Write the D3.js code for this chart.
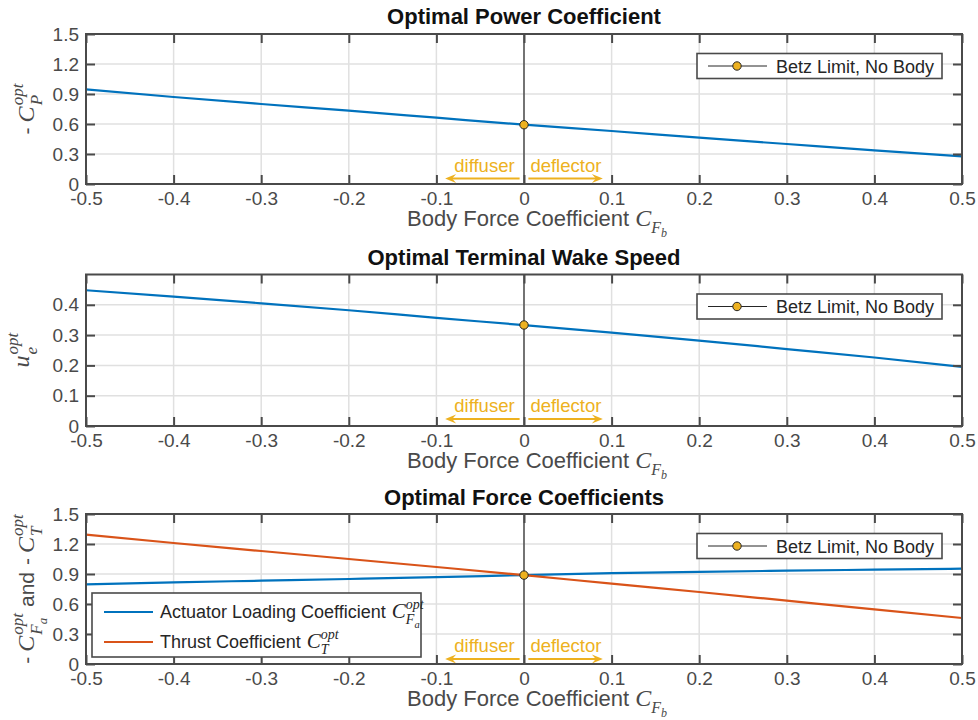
<!DOCTYPE html>
<html>
<head>
<meta charset="utf-8">
<script src="https://cdn.jsdelivr.net/npm/d3@7"></script>
<style>
  body { margin: 0; background: #fff; }
  svg { display: block; }
</style>
</head>
<body>
<svg id="chart" width="978" height="720"></svg>
<script>
// body force coefficient samples (x axis)
var bodyForce = [-0.5, -0.4, -0.3, -0.2, -0.1, 0, 0.1, 0.2, 0.3, 0.4, 0.5];
// optimal power coefficient (-C_P)
var powerCoef = [0.947, 0.870, 0.800, 0.733, 0.663, 0.593, 0.530, 0.463, 0.400, 0.337, 0.277];
// optimal terminal wake speed u_e
var wakeSpeed = [0.448, 0.427, 0.405, 0.382, 0.357, 0.333, 0.308, 0.282, 0.254, 0.226, 0.195];
// actuator loading coefficient (-C_Fa)
var actuatorCoef = [0.796, 0.816, 0.833, 0.850, 0.868, 0.889, 0.908, 0.922, 0.933, 0.943, 0.953];
// thrust coefficient (-C_T)
var thrustCoef = [1.293, 1.210, 1.130, 1.050, 0.970, 0.889, 0.803, 0.720, 0.633, 0.546, 0.460];
// betz limit (no body) values per panel
var betzValues = [16 / 27, 1 / 3, 8 / 9];

var xTicks = [-0.5, -0.4, -0.3, -0.2, -0.1, 0, 0.1, 0.2, 0.3, 0.4, 0.5];
var yTicksCoef = [0, 0.3, 0.6, 0.9, 1.2, 1.5];
var yTicksWake = [0, 0.1, 0.2, 0.3, 0.4];
var titles = ["Optimal Power Coefficient", "Optimal Terminal Wake Speed", "Optimal Force Coefficients"];
var arrowSpans = [[-0.005, -0.09], [0.005, 0.09]];
var arrowTexts = ["diffuser", "deflector"];
var legendNames = ["Actuator Loading Coefficient", "Thrust Coefficient"];

var blue = "#0072BD", orange = "#D95319", yellow = "#EDB120";
var axisCol = "#4a4a4a", gridCol = "#e0e0e0";
var sans = "'Liberation Sans', Arial, Helvetica, sans-serif";
var serif = "'Liberation Serif', 'Times New Roman', serif";

var svg = d3.select("#chart");
var left = 86, right = 962;

var x = d3.scaleLinear().domain([-0.5, 0.5]).range([left, right]);

// lays out text pieces with sub/superscripts, returns the group
function richText(parent, parts, anchor) {
	var g = parent.append("g");
	var cursor = 0, maxX = 0, mark = 0;
	parts.forEach(function(p) {
		var start = p.back ? mark : (p.cont ? cursor : maxX);
		start += (p.pre || 0);
		if (p.mark) mark = start;
		var el = g.append("text")
			.attr("x", start)
			.attr("y", p.dy || 0)
			.style("font-family", p.math ? serif : sans)
			.style("font-style", p.math ? "italic" : "normal")
			.style("font-size", p.size + "px")
			.attr("fill", p.color || axisCol)
			.text(p.t);
		var w = el.node().getComputedTextLength();
		cursor = start + w + (p.gap || 0);
		maxX = Math.max(maxX, cursor);
	});
	var shift = anchor == "middle" ? -maxX / 2 : (anchor == "end" ? -maxX : 0);
	g.attr("transform", "translate(" + shift + ",0)");
	return g;
}

function drawArrow(g, x1, x2, yy) {
	var dir = x2 > x1 ? 1 : -1;
	g.append("line")
		.attr("x1", x1).attr("x2", x2 - dir * 6)
		.attr("y1", yy).attr("y2", yy)
		.style("stroke", yellow).style("stroke-width", 2);
	g.append("path")
		.attr("d", "M" + x2 + "," + yy +
			"L" + (x2 - dir * 11) + "," + (yy - 4.5) +
			"L" + (x2 - dir * 7) + "," + yy +
			"L" + (x2 - dir * 11) + "," + (yy + 4.5) + "Z")
		.style("fill", yellow);
}

var panels = [
	{ top: 34, bottom: 184, domain: [0, 1.5], ticks: yTicksCoef, series: [{ v: powerCoef, c: blue }],
	  titleY: 24, arrowOff: 5.5, textOff: 12.5, labelX: 34,
	  ylabel: [{ t: "-", size: 21, gap: 5 }, { t: "C", math: true, size: 24 },
		{ t: "opt", math: true, size: 17, dy: -11, mark: true, pre: 1 }, { t: "P", math: true, size: 17, dy: 8, back: true }] },
	{ top: 274.5, bottom: 426, domain: [0, 0.5], ticks: yTicksWake, series: [{ v: wakeSpeed, c: blue }],
	  titleY: 265, arrowOff: 7, textOff: 14, labelX: 29,
	  ylabel: [{ t: "u", math: true, size: 24 },
		{ t: "opt", math: true, size: 17, dy: -11, mark: true, pre: 1 }, { t: "e", math: true, size: 17, dy: 8, back: true }] },
	{ top: 514, bottom: 664, domain: [0, 1.5], ticks: yTicksCoef, series: [{ v: actuatorCoef, c: blue }, { v: thrustCoef, c: orange }],
	  titleY: 505, arrowOff: 5, textOff: 12, labelX: 34,
	  ylabel: [{ t: "-", size: 21, gap: 5 }, { t: "C", math: true, size: 24 },
		{ t: "opt", math: true, size: 17, dy: -11, mark: true, pre: 1 }, { t: "F", math: true, size: 17, dy: 8, back: true },
		{ t: "a", math: true, size: 13, dy: 13, cont: true },
		{ t: "and", size: 21, pre: 6, gap: 7 }, { t: "-", size: 21, gap: 5 }, { t: "C", math: true, size: 24 },
		{ t: "opt", math: true, size: 17, dy: -11, mark: true, pre: 1 }, { t: "T", math: true, size: 17, dy: 8, back: true }] }
];

panels.forEach(function(p, pi) {
	var y = d3.scaleLinear().domain(p.domain).range([p.bottom, p.top]);
	var g = svg.append("g");

	// grid
	g.selectAll(".gx").data(xTicks).enter().append("line")
		.attr("x1", function(d) { return x(d); }).attr("x2", function(d) { return x(d); })
		.attr("y1", p.top).attr("y2", p.bottom)
		.style("stroke", gridCol).style("stroke-width", 1.5);
	g.selectAll(".gy").data(p.ticks).enter().append("line")
		.attr("x1", left).attr("x2", right)
		.attr("y1", function(d) { return y(d); }).attr("y2", function(d) { return y(d); })
		.style("stroke", gridCol).style("stroke-width", 1.5);

	// zero line (betz / no body)
	g.append("line")
		.attr("x1", x(0)).attr("x2", x(0))
		.attr("y1", p.top).attr("y2", p.bottom)
		.style("stroke", "#262626").style("stroke-width", 1.2);

	// diffuser / deflector arrows
	var ay = p.bottom - p.arrowOff;
	arrowSpans.forEach(function(s, i) {
		drawArrow(g, x(s[0]), x(s[1]), ay);
		g.append("text")
			.attr("x", i == 0 ? x(s[0]) - 5 : x(s[0]) + 2)
			.attr("y", p.bottom - p.textOff)
			.attr("text-anchor", i == 0 ? "end" : "start")
			.style("font-family", sans).style("font-size", "18.5px")
			.attr("fill", yellow)
			.text(arrowTexts[i]);
	});

	// series
	var line = d3.line()
		.x(function(d, i) { return x(bodyForce[i]); })
		.y(function(d) { return y(d); })
		.curve(d3.curveMonotoneX);
	p.series.forEach(function(s) {
		g.append("path").datum(s.v)
			.attr("d", line)
			.style("fill", "none").style("stroke", s.c).style("stroke-width", 2.2);
	});

	// betz point
	g.append("circle")
		.attr("cx", x(0)).attr("cy", y(betzValues[pi])).attr("r", 4.2)
		.style("fill", yellow).style("stroke", "#262626").style("stroke-width", 1);

	// axes with inward ticks
	var fmt = function(d) { return String(d); };
	g.append("g").attr("transform", "translate(0," + p.bottom + ")")
		.call(d3.axisBottom(x).tickValues(xTicks).tickSize(-9).tickPadding(8).tickFormat(fmt));
	g.append("g").attr("transform", "translate(0," + p.top + ")")
		.call(d3.axisTop(x).tickValues(xTicks).tickSize(-9).tickFormat(""));
	g.append("g").attr("transform", "translate(" + left + ",0)")
		.call(d3.axisLeft(y).tickValues(p.ticks).tickSize(-9).tickPadding(7).tickFormat(fmt));
	g.append("g").attr("transform", "translate(" + right + ",0)")
		.call(d3.axisRight(y).tickValues(p.ticks).tickSize(-9).tickFormat(""));
	g.selectAll(".domain").remove();
	g.selectAll(".tick line").style("stroke", axisCol).style("stroke-width", 2);
	g.selectAll(".tick text").style("font-family", sans).style("font-size", "19px").attr("fill", axisCol);

	g.append("rect")
		.attr("x", left).attr("y", p.top)
		.attr("width", right - left).attr("height", p.bottom - p.top)
		.style("fill", "none").style("stroke", axisCol).style("stroke-width", 2);

	// title
	g.append("text")
		.attr("x", (left + right) / 2).attr("y", p.titleY)
		.attr("text-anchor", "middle")
		.style("font-family", sans).style("font-weight", "bold").style("font-size", "22px")
		.attr("fill", "#111")
		.text(titles[pi]);

	// x label
	var xl = g.append("g").attr("transform", "translate(537," + (p.bottom + 42) + ")");
	richText(xl, [{ t: "Body Force Coefficient", size: 22, gap: 6 }, { t: "C", math: true, size: 24 },
		{ t: "F", math: true, size: 16, dy: 7 }, { t: "b", math: true, size: 12, dy: 11, cont: true }], "middle");

	// y label
	var yl = g.append("g").attr("transform", "translate(" + p.labelX + "," + ((p.top + p.bottom) / 2) + ") rotate(-90)");
	richText(yl, p.ylabel, "middle");

	// betz legend
	var lg = g.append("g").attr("transform", "translate(697," + (p.top + 19.5) + ")");
	lg.append("rect").attr("width", 245).attr("height", 25)
		.style("fill", "#fff").style("stroke", axisCol).style("stroke-width", 1.6);
	lg.append("line").attr("x1", 11).attr("x2", 70).attr("y1", 12.5).attr("y2", 12.5)
		.style("stroke", "#262626").style("stroke-width", 1);
	lg.append("circle").attr("cx", 40).attr("cy", 12.5).attr("r", 4.2)
		.style("fill", yellow).style("stroke", "#262626").style("stroke-width", 1);
	lg.append("text").attr("x", 79).attr("y", 19)
		.style("font-family", sans).style("font-size", "18px").attr("fill", "#262626")
		.text("Betz Limit, No Body");

	// series legend on the force panel
	if (pi == 2) {
		var sl = g.append("g").attr("transform", "translate(92,593)");
		sl.append("rect").attr("width", 329).attr("height", 64)
			.style("fill", "#fff").style("stroke", axisCol).style("stroke-width", 1.6);
		var subs = [["F", "a"], ["T", null]];
		[blue, orange].forEach(function(c, i) {
			var ly = 19 + i * 30;
			sl.append("line").attr("x1", 12).attr("x2", 61).attr("y1", ly).attr("y2", ly)
				.style("stroke", c).style("stroke-width", 2.2);
			var tg = sl.append("g").attr("transform", "translate(68," + (ly + 6) + ")");
			var parts = [{ t: legendNames[i], size: 18, gap: 6, color: "#262626" }, { t: "C", math: true, size: 21, color: "#262626" },
				{ t: "opt", math: true, size: 14, dy: -9, mark: true, color: "#262626" },
				{ t: subs[i][0], math: true, size: 14, dy: 6, back: true, color: "#262626" }];
			if (subs[i][1]) parts.push({ t: subs[i][1], math: true, size: 10.5, dy: 10, cont: true, color: "#262626" });
			richText(tg, parts, "start");
		});
	}
});
</script>
</body>
</html>
